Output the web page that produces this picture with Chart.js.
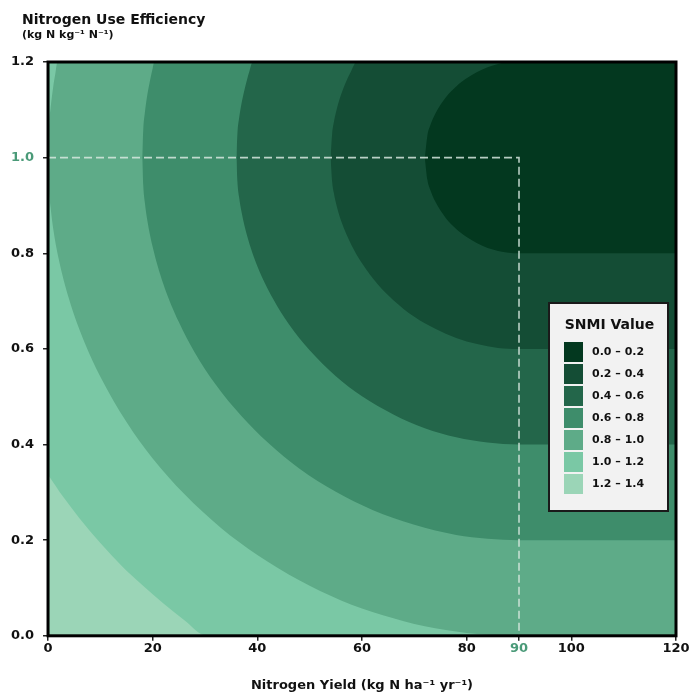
<!DOCTYPE html>
<html>
<head>
<meta charset="utf-8">
<script src="https://cdn.jsdelivr.net/npm/chart.js@4.4.1/dist/chart.umd.min.js"></script>
<style>
  html, body { margin: 0; padding: 0; background: #fff; }
  #wrap { width: 693px; height: 693px; }
</style>
</head>
<body>
<div id="wrap"><canvas id="myChart" width="693" height="693"></canvas></div>
<script>
// band legend
const bandLabels = ['0.0 – 0.2', '0.2 – 0.4', '0.4 – 0.6', '0.6 – 0.8', '0.8 – 1.0', '1.0 – 1.2', '1.2 – 1.4'];
const bandColors = ['#03381f', '#144d35', '#23664a', '#3e8d6b', '#5eab88', '#7ac8a5', '#9bd5b7'];

// axis ticks
const yieldTicks = [0, 20, 40, 60, 80, 90, 100, 120];
const nueTicks = [0, 0.2, 0.4, 0.6, 0.8, 1.0, 1.2];
const targetYield = 90;
const targetNue = 1.0;

// contour edges: lower and upper edge of each band's region
const b02LowYield = [72, 72.5, 73, 74, 76, 78, 80, 82, 84, 86, 88, 90, 120];
const b02LowNue = [1.0, 0.953, 0.934, 0.908, 0.874, 0.851, 0.834, 0.821, 0.811, 0.805, 0.801, 0.8, 0.8];
const b02UpYield = [72, 72.5, 73, 74, 76, 78, 80, 82, 84, 86, 88, 120];
const b02UpNue = [1.0, 1.047, 1.066, 1.092, 1.126, 1.149, 1.166, 1.179, 1.189, 1.196, 1.2, 1.2];

const b04LowYield = [54, 54.3, 54.6, 55, 56, 58, 60, 63, 66, 70, 74, 78, 82, 86, 90, 120];
const b04LowNue = [1.0, 0.949, 0.927, 0.906, 0.868, 0.817, 0.779, 0.735, 0.702, 0.667, 0.642, 0.623, 0.61, 0.602, 0.6, 0.6];
const b04UpYield = [54, 54.3, 54.6, 55, 56, 57, 58, 58.4, 58.8, 120];
const b04UpNue = [1.0, 1.051, 1.073, 1.094, 1.132, 1.16, 1.183, 1.192, 1.2, 1.2];

const b06LowYield = [36, 36.2, 36.5, 37, 38, 40, 43, 46, 50, 55, 60, 66, 72, 78, 84, 90, 120];
const b06LowNue = [1.0, 0.948, 0.918, 0.885, 0.838, 0.773, 0.705, 0.652, 0.597, 0.543, 0.501, 0.463, 0.434, 0.415, 0.404, 0.4, 0.4];
const b06UpYield = [36, 36.2, 36.5, 37, 37.5, 38, 38.5, 39.1, 120];
const b06UpNue = [1.0, 1.052, 1.082, 1.115, 1.14, 1.162, 1.181, 1.2, 1.2];

const b08LowYield = [18, 18.2, 18.5, 19, 20, 22, 25, 28, 32, 37, 42, 48, 55, 62, 70, 78, 84, 90, 120];
const b08LowNue = [1.0, 0.941, 0.906, 0.867, 0.813, 0.737, 0.656, 0.593, 0.526, 0.459, 0.404, 0.35, 0.301, 0.263, 0.232, 0.211, 0.203, 0.2, 0.2];
const b08UpYield = [18, 18.2, 18.5, 19, 19.5, 20, 20.3, 120];
const b08UpNue = [1.0, 1.059, 1.094, 1.133, 1.162, 1.187, 1.2, 1.2];

const b10LowYield = [0, 0.2, 0.5, 1, 2, 4, 7, 10, 15, 20, 26, 33, 40, 48, 56, 64, 72, 80, 86, 90, 120];
const b10LowNue = [1.0, 0.933, 0.895, 0.851, 0.79, 0.705, 0.613, 0.542, 0.447, 0.371, 0.297, 0.226, 0.169, 0.116, 0.074, 0.043, 0.02, 0.006, 0.001, 0, 0];
const b10UpYield = [0, 0.2, 0.5, 1, 1.4, 1.8, 120];
const b10UpNue = [1.0, 1.067, 1.105, 1.149, 1.176, 1.2, 1.2];

const b12LowYield = [0, 3, 6, 10, 14, 18, 22, 26, 30.3, 120];
const b12LowNue = [0.337, 0.289, 0.246, 0.194, 0.147, 0.106, 0.068, 0.033, 0, 0];
const b12UpYield = [0, 120];
const b12UpNue = [1.2, 1.2];

const FONT = '"DejaVu Sans", sans-serif';
const GREEN = '#4a9a78';

function pts(xs, ys) {
    return xs.map((x, i) => ({ x: x, y: ys[i] }));
}

const lowerEdges = [
    [b02LowYield, b02LowNue],
    [b04LowYield, b04LowNue],
    [b06LowYield, b06LowNue],
    [b08LowYield, b08LowNue],
    [b10LowYield, b10LowNue],
    [b12LowYield, b12LowNue]
];
const upperEdges = [
    [b02UpYield, b02UpNue],
    [b04UpYield, b04UpNue],
    [b06UpYield, b06UpNue],
    [b08UpYield, b08UpNue],
    [b10UpYield, b10UpNue],
    [b12UpYield, b12UpNue]
];

const targetLine = {
    data: [{ x: 0, y: targetNue }, { x: targetYield, y: targetNue }, { x: targetYield, y: 0 }],
    borderColor: 'rgba(215, 232, 223, 0.85)',
    borderWidth: 1.6,
    borderDash: [8, 4],
    pointRadius: 0,
    fill: false
};

// index 0 is the dashed guide, 1..6 lower edges (darkest first, drawn last), 7..12 upper edges
const n = lowerEdges.length;
const lowerSets = lowerEdges.map((b, i) => ({
    data: pts(b[0], b[1]),
    backgroundColor: bandColors[i],
    borderWidth: 0,
    pointRadius: 0,
    cubicInterpolationMode: 'monotone',
    fill: { target: 1 + n + i }
}));
const upperSets = upperEdges.map((b) => ({
    data: pts(b[0], b[1]),
    borderWidth: 0,
    pointRadius: 0,
    cubicInterpolationMode: 'monotone',
    fill: false
}));

const backgroundBand = {
    id: 'backgroundBand',
    beforeDatasetsDraw(chart) {
        const { ctx, chartArea: a } = chart;
        ctx.save();
        ctx.fillStyle = bandColors[bandColors.length - 1];
        ctx.fillRect(a.left, a.top, a.right - a.left, a.bottom - a.top);
        ctx.restore();
    }
};

const frameAndText = {
    id: 'frameAndText',
    afterDatasetsDraw(chart) {
        const { ctx, chartArea: a } = chart;
        ctx.save();
        ctx.strokeStyle = '#000';
        ctx.lineWidth = 3;
        ctx.strokeRect(a.left, a.top, a.right - a.left, a.bottom - a.top);
        ctx.restore();
    },
    afterDraw(chart) {
        const { ctx } = chart;
        ctx.save();
        ctx.fillStyle = '#111';
        ctx.textBaseline = 'alphabetic';
        ctx.textAlign = 'left';
        ctx.font = 'bold 14px ' + FONT;
        ctx.fillText('Nitrogen Use Efficiency', 22, 24);
        ctx.font = 'bold 11px ' + FONT;
        ctx.fillText('(kg N kg⁻¹ N⁻¹)', 22, 38);

        // legend box
        const bx = 549, by = 303, bw = 119, bh = 208;
        ctx.fillStyle = '#f2f2f2';
        ctx.fillRect(bx, by, bw, bh);
        ctx.strokeStyle = '#1a1a1a';
        ctx.lineWidth = 2;
        ctx.strokeRect(bx, by, bw, bh);
        ctx.fillStyle = '#111';
        ctx.textAlign = 'center';
        ctx.textBaseline = 'middle';
        ctx.font = 'bold 14px ' + FONT;
        ctx.fillText('SNMI Value', bx + bw / 2 + 1, by + 22);
        ctx.textAlign = 'left';
        ctx.font = 'bold 11px ' + FONT;
        bandLabels.forEach((lab, i) => {
            const y = by + 39 + i * 22;
            ctx.fillStyle = bandColors[i];
            ctx.fillRect(bx + 15, y, 19, 20);
            ctx.fillStyle = '#111';
            ctx.fillText(lab, bx + 43, y + 10);
        });
        ctx.restore();
    }
};

const config = {
    type: 'line',
    data: {
        datasets: [targetLine].concat(lowerSets, upperSets)
    },
    options: {
        responsive: false,
        animation: false,
        layout: { padding: { left: 2, top: 62, right: 17, bottom: 0 } },
        plugins: {
            legend: { display: false },
            tooltip: { enabled: false }
        },
        scales: {
            x: {
                type: 'linear',
                min: 0,
                max: 120,
                afterBuildTicks: (scale) => {
                    scale.ticks = yieldTicks.map((v) => ({ value: v }));
                },
                ticks: {
                    font: { family: FONT, size: 13, weight: 'bold' },
                    color: (c) => c.tick.value === targetYield ? GREEN : '#111',
                    padding: 0,
                    maxRotation: 0,
                    autoSkip: false,
                    callback: (v) => String(v)
                },
                grid: { drawOnChartArea: false, drawTicks: true, tickLength: 5, color: '#222', lineWidth: 1.5 },
                border: { display: false },
                title: {
                    display: true,
                    text: 'Nitrogen Yield (kg N ha⁻¹ yr⁻¹)',
                    font: { family: FONT, size: 13, weight: 'bold' },
                    color: '#111',
                    padding: { top: 21, bottom: 0 }
                }
            },
            y: {
                type: 'linear',
                min: 0,
                max: 1.2,
                afterBuildTicks: (scale) => {
                    scale.ticks = nueTicks.map((v) => ({ value: v }));
                },
                ticks: {
                    font: { family: FONT, size: 13, weight: 'bold' },
                    color: (c) => Math.abs(c.tick.value - targetNue) < 1e-9 ? GREEN : '#111',
                    padding: 9,
                    callback: (v) => Number(v).toFixed(1)
                },
                grid: { drawOnChartArea: false, drawTicks: true, tickLength: 5, color: '#222', lineWidth: 1.5 },
                border: { display: false }
            }
        }
    },
    plugins: [backgroundBand, frameAndText]
};

const myChart = new Chart(document.getElementById('myChart'), config);
</script>
</body>
</html>
